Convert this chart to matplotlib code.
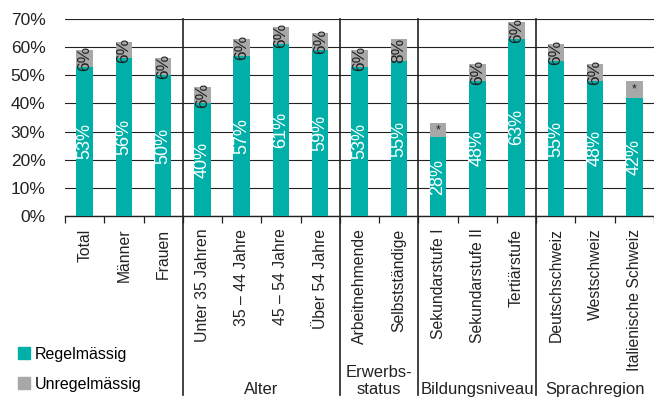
import numpy as np
import matplotlib.pyplot as plt
from matplotlib.patches import Patch

plt.rcParams['font.family'] = ['Liberation Sans', 'DejaVu Sans']

categories = ["Total", "Männer", "Frauen",
              "Unter 35 Jahren", "35 – 44 Jahre", "45 – 54 Jahre", "Über 54 Jahre",
              "Arbeitnehmende", "Selbstständige",
              "Sekundarstufe I", "Sekundarstufe II", "Tertiärstufe",
              "Deutschschweiz", "Westschweiz", "Italienische Schweiz"]
regel = [53, 56, 50, 40, 57, 61, 59, 53, 55, 28, 48, 63, 55, 48, 42]
unregel = [6, 6, 6, 6, 6, 6, 6, 6, 8, 5, 6, 6, 6, 6, 6]
unregel_labels = ["6%", "6%", "6%", "6%", "6%", "6%", "6%", "6%", "8%", "*",
                  "6%", "6%", "6%", "6%", "*"]
groups = [("", 0, 2), ("Alter", 3, 6), ("Erwerbs-\nstatus", 7, 8),
          ("Bildungsniveau", 9, 11), ("Sprachregion", 12, 14)]

teal = "#00B0A8"
grey = "#A8A8A8"

fig = plt.figure(figsize=(6.54, 3.99), dpi=100)
ax = fig.add_axes([65/654, 1-216/399, 589/654, 197/399])

x = np.arange(len(categories))
w = 0.42
ax.bar(x, regel, w, color=teal, zorder=3)
ax.bar(x, unregel, w, bottom=regel, color=grey, zorder=3)

for i in range(len(x)):
    ax.text(x[i], regel[i]/2, f"{regel[i]}%", rotation=90, ha='center', va='center',
            color='white', fontsize=13, zorder=4)
    lab = unregel_labels[i]
    if lab == "*":
        ax.text(x[i], regel[i] + unregel[i]/2, lab, ha='center', va='center',
                color='#222222', fontsize=9, zorder=4)
    else:
        ax.text(x[i], regel[i] + unregel[i]/2, lab, rotation=90, ha='center', va='center',
                color='#222222', fontsize=12.5, zorder=4)

ax.set_xlim(-0.5, len(x) - 0.5)
ax.set_ylim(0, 70)
ax.set_yticks(range(0, 71, 10))
ax.set_yticklabels([f"{v}%" for v in range(0, 71, 10)], fontsize=12.5, color='#222222')
ax.tick_params(axis='y', length=0, pad=14)
ax.grid(axis='y', color='#222222', lw=0.8, zorder=1)

ax.set_xticks(x)
ax.set_xticklabels(categories, rotation=90, fontsize=11.3, color='#222222')
ax.tick_params(axis='x', which='major', length=0, pad=9)
ax.set_xticks(np.arange(-0.5, len(x)), minor=True)
ax.tick_params(axis='x', which='minor', length=5, width=0.9, color='#222222')

for s in ['left', 'right', 'top']:
    ax.spines[s].set_visible(False)
ax.spines['bottom'].set_color('#222222')
ax.spines['bottom'].set_linewidth(1)

# group separators running down into the label area
trans = ax.get_xaxis_transform()
for name, a, b in groups[1:]:
    ax.plot([a - 0.5, a - 0.5], [1, -0.91], color='#222222', lw=1.2,
            transform=trans, clip_on=False)

for name, a, b in groups:
    if not name:
        continue
    ax.text((a + b) / 2, -0.92, name, transform=trans, ha='center', va='bottom',
            fontsize=12, color='#222222', linespacing=1.2)

handles = [Patch(color=teal), Patch(color=grey)]
fig.legend(handles, ["Regelmässig", "Unregelmässig"], loc='lower left',
           bbox_to_anchor=(0.005, -0.018), frameon=False, fontsize=11.5,
           handlelength=0.75, handleheight=0.75, handletextpad=0.3,
           labelspacing=0.95)

fig.savefig("out.png", dpi=100)
